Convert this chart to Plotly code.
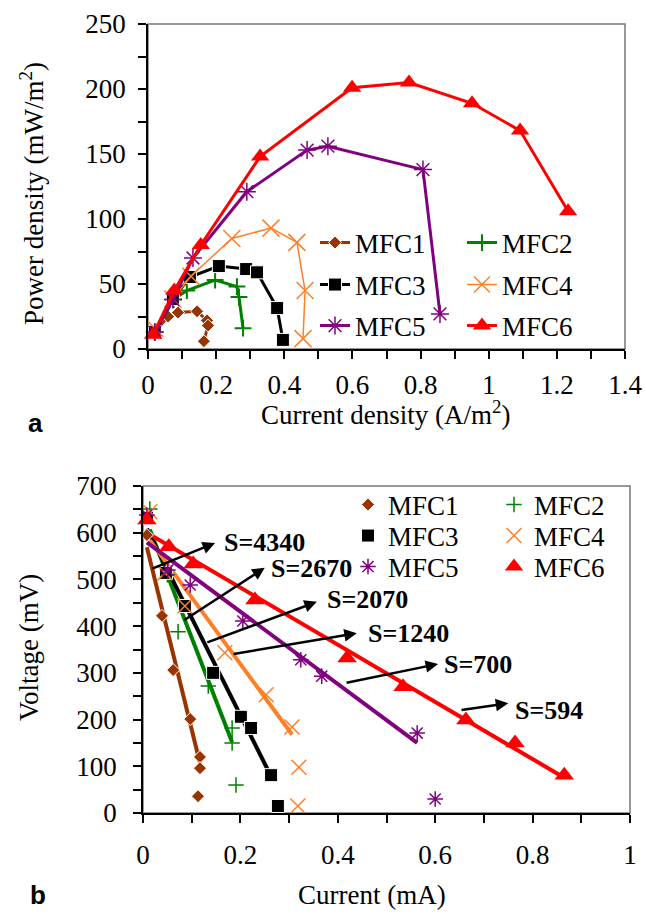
import numpy as np
import plotly.graph_objects as go

W, H = 646, 914

names = ["MFC1", "MFC2", "MFC3", "MFC4", "MFC5", "MFC6"]
colors = ["#993300", "#008000", "#000000", "#FF7F27", "#800080", "#FF0000"]

# ---- Panel a: power density vs current density ----
pd1_x = [0.02, 0.059, 0.088, 0.144, 0.173, 0.176, 0.164]
pd1_y = [13, 25, 28, 29, 22, 18, 6]
pd2_x = [0.02, 0.075, 0.114, 0.197, 0.261, 0.267, 0.279]
pd2_y = [13, 38, 45, 53, 48, 40, 16]
pd3_x = [0.02, 0.073, 0.123, 0.208, 0.288, 0.32, 0.379, 0.396]
pd3_y = [13, 38.5, 55.4, 63.8, 61.5, 59, 31.5, 7]
pd4_x = [0.02, 0.073, 0.126, 0.246, 0.361, 0.437, 0.461, 0.455]
pd4_y = [16, 38.5, 56, 85, 93, 82, 45, 8]
pd5_x = [0.02, 0.073, 0.132, 0.29, 0.467, 0.528, 0.807, 0.857]
pd5_y = [13, 38, 70, 121, 153, 156, 138, 27]
pd6_x = [0.015, 0.077, 0.155, 0.329, 0.599, 0.766, 0.951, 1.092, 1.233]
pd6_y = [11, 45, 80, 148, 201, 205, 189, 168, 106]

# ---- Panel b: voltage vs current ----
v1_x = [0.008, 0.039, 0.062, 0.097, 0.117, 0.117, 0.113]
v1_y = [595, 422, 306, 201, 120, 96, 36]
v2_x = [0.014, 0.05, 0.072, 0.134, 0.183, 0.183, 0.191]
v2_y = [651, 510, 388, 272, 182, 150, 60]
v3_x = [0.008, 0.047, 0.086, 0.144, 0.201, 0.222, 0.263, 0.277]
v3_y = [632, 514, 443, 300, 206, 182, 81, 15]
v4_x = [0.014, 0.045, 0.086, 0.168, 0.253, 0.306, 0.32, 0.318]
v4_y = [645, 514, 443, 343, 253, 184, 98, 15]
v5_x = [0.008, 0.051, 0.097, 0.205, 0.324, 0.367, 0.563, 0.6]
v5_y = [638, 520, 488, 411, 328, 293, 171, 30]
v6_x = [0.008, 0.053, 0.103, 0.23, 0.419, 0.534, 0.663, 0.764, 0.865]
v6_y = [627, 570, 533, 456, 332, 270, 199, 150, 81]
# number of leading points used for the linear fit of each curve
fit_n = [5, 6, 7, 6, 7, 9]

slope_labels = ["S=4340", "S=2670", "S=2070", "S=1240", "S=700", "S=594"]
# arrow tail (on line), arrow head, label centre (data coords of panel b)
arrow_tail = [(0.016, 522), (0.082, 411), (0.129, 364), (0.183, 340), (0.415, 278), (0.651, 220)]
arrow_head = [(0.148, 578), (0.25, 525), (0.357, 452), (0.439, 385), (0.606, 319), (0.75, 235)]
label_pos = [(0.25, 578), (0.345, 523), (0.462, 458), (0.546, 385), (0.688, 317), (0.834, 220)]

pd_x = [pd1_x, pd2_x, pd3_x, pd4_x, pd5_x, pd6_x]
pd_y = [pd1_y, pd2_y, pd3_y, pd4_y, pd5_y, pd6_y]
v_x = [v1_x, v2_x, v3_x, v4_x, v5_x, v6_x]
v_y = [v1_y, v2_y, v3_y, v4_y, v5_y, v6_y]

SERIF = "Liberation Serif"
SANS = "Liberation Sans"

def pxx(x):
    return x / W

def pxy(y):
    return 1 - y / H

top_sym = [
    dict(symbol="diamond", size=10, line=dict(color="white", width=1)),
    dict(symbol="cross-thin-open", size=12, line=dict(color=colors[1], width=2)),
    dict(symbol="square", size=13, line=dict(color="white", width=1)),
    dict(symbol="x-thin-open", size=17, line=dict(color=colors[3], width=1.5)),
    dict(symbol="asterisk-open", size=15, line=dict(color=colors[4], width=1.5)),
    dict(symbol="triangle-up", size=16, line=dict(width=0)),
]
top_lw = [3, 3, 3, 1.5, 3, 3]
bot_sym = [
    dict(symbol="diamond", size=10, line=dict(color="white", width=1)),
    dict(symbol="cross-thin-open", size=11, line=dict(color=colors[1], width=1.5)),
    dict(symbol="square", size=13, line=dict(color="white", width=1)),
    dict(symbol="x-thin-open", size=15, line=dict(color=colors[3], width=1.5)),
    dict(symbol="asterisk-open", size=13, line=dict(color=colors[4], width=1.5)),
    dict(symbol="triangle-up", size=17, line=dict(width=0)),
]
top_leg = ["legend", "legend", "legend2", "legend2", "legend3", "legend3"]
bot_leg = ["legend4", "legend4", "legend5", "legend5", "legend6", "legend6"]

fig = go.Figure()

for i in range(6):
    fig.add_trace(go.Scatter(
        x=pd_x[i], y=pd_y[i], mode="lines+markers", name=names[i],
        line=dict(color=colors[i], width=top_lw[i]),
        marker=dict(color=colors[i], **top_sym[i]),
        xaxis="x", yaxis="y", legend=top_leg[i], cliponaxis=False,
    ))

for i in range(6):
    n = fit_n[i]
    xs = np.array(v_x[i][:n])
    ys = np.array(v_y[i][:n])
    k, b = np.polyfit(xs, ys, 1)
    lx = np.array([xs.min(), xs.max()])
    fig.add_trace(go.Scatter(
        x=lx, y=k * lx + b, mode="lines", showlegend=False,
        line=dict(color=colors[i], width=4), xaxis="x2", yaxis="y2",
        hoverinfo="skip",
    ))

for i in range(6):
    fig.add_trace(go.Scatter(
        x=v_x[i], y=v_y[i], mode="markers", name=names[i],
        marker=dict(color=colors[i], **bot_sym[i]),
        xaxis="x2", yaxis="y2", legend=bot_leg[i], cliponaxis=False,
    ))

def axcommon(fam=SERIF):
    return dict(showgrid=False, zeroline=False, showline=True, linecolor="black",
                linewidth=1.5, ticks="outside", ticklen=8, tickwidth=1.5,
                tickcolor="black", tickfont=dict(family=fam, size=27, color="black"),
                automargin=False)

def minor(dt):
    return dict(dtick=dt, ticks="outside", ticklen=8, tickcolor="black", tickwidth=1.5)

fig.update_layout(
    template="none",
    font=dict(family=SERIF, size=27, color="black"),
    width=W, height=H, margin=dict(l=0, r=0, t=0, b=0, autoexpand=False),
    paper_bgcolor="white", plot_bgcolor="white",
    xaxis=dict(domain=[pxx(148), pxx(625)], range=[0, 1.4], dtick=0.2, anchor="y",
               minor=minor(0.1), ticklabelstandoff=3, **axcommon()),
    yaxis=dict(domain=[pxy(349), pxy(24)], range=[0, 250], dtick=50, anchor="x",
               minor=minor(25), ticklabelstandoff=7, **axcommon()),
    xaxis2=dict(domain=[pxx(143), pxx(630)], range=[0, 1], dtick=0.2, anchor="y2",
                minor=minor(0.1), ticklabelstandoff=9, **axcommon()),
    yaxis2=dict(domain=[pxy(813), pxy(486)], range=[0, 700], dtick=100, anchor="x2",
                minor=minor(50), ticklabelstandoff=11, **axcommon()),
    showlegend=True,
)

def leg(xp, yp, ew):
    return dict(x=pxx(xp), y=pxy(yp), xanchor="left", yanchor="middle",
                orientation="h", entrywidth=ew, entrywidthmode="pixels",
                font=dict(family=SERIF, size=27, color="black"),
                bgcolor="rgba(0,0,0,0)", borderwidth=0, itemclick=False,
                tracegroupgap=0)

fig.update_layout(
    legend=leg(315, 243, 102),
    legend2=leg(315, 285, 102),
    legend3=leg(315, 326, 102),
    legend4=leg(348, 505, 101),
    legend5=leg(348, 536, 101),
    legend6=leg(348, 567, 101),
)

shapes = []
for xr, yr in (("x", "y"), ("x2", "y2")):
    shapes.append(dict(type="rect", xref=f"{xr} domain", yref=f"{yr} domain",
                       x0=0, x1=1, y0=0, y1=1, line=dict(color="#777777", width=1.5),
                       layer="below"))
fig.update_layout(shapes=shapes)

def txt(text, xp, yp, angle=0, family=SERIF, size=27):
    return dict(text=text, x=pxx(xp), y=pxy(yp), xref="paper", yref="paper",
                xanchor="center", yanchor="middle", showarrow=False, textangle=angle,
                font=dict(family=family, size=size, color="black"))

ann = [
    txt("Power density (mW/m<sup>2</sup>)", 32, 194, -90),
    txt("Current density (A/m<sup>2</sup>)", 385, 413),
    txt("Voltage (mV)", 29, 648, -90),
    txt("Current (mA)", 372, 895),
    txt("<b>a</b>", 35, 423, family=SANS, size=26),
    txt("<b>b</b>", 38, 895, family=SANS, size=26),
]

for i in range(6):
    (tx, ty), (hx, hy), (lx, ly) = arrow_tail[i], arrow_head[i], label_pos[i]
    ann.append(dict(text="", x=hx, y=hy, ax=tx, ay=ty, xref="x2", yref="y2",
                    axref="x2", ayref="y2", showarrow=True, arrowhead=2,
                    arrowsize=1, arrowwidth=2.5, arrowcolor="black", standoff=0,
                    startstandoff=0))
    ann.append(dict(text="<b>" + slope_labels[i] + "</b>", x=lx, y=ly, xref="x2", yref="y2",
                    xanchor="center", yanchor="middle", showarrow=False,
                    font=dict(family=SERIF, size=26, color="black")))

fig.update_layout(annotations=ann)

fig.write_html("out.html")
